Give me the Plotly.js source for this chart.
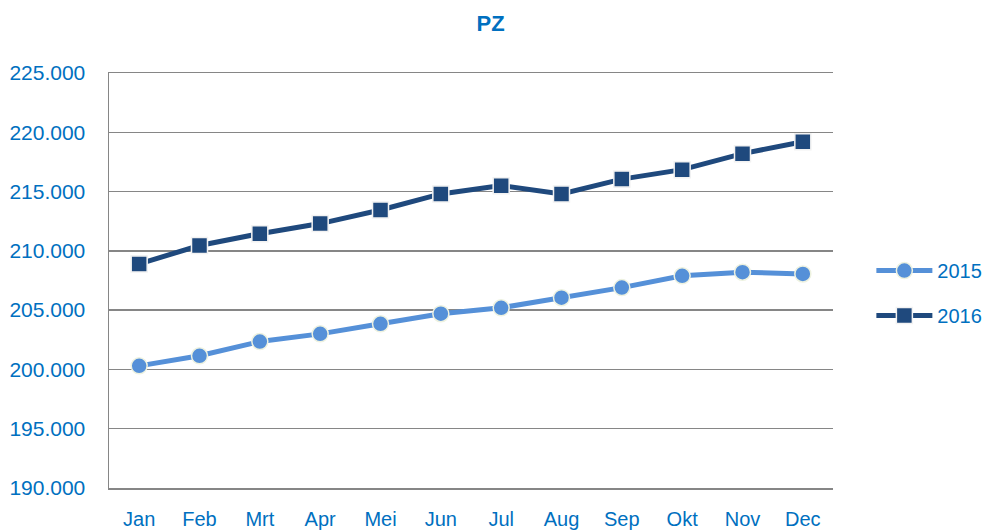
<!DOCTYPE html>
<html>
<head>
<meta charset="utf-8">
<script src="https://cdn.plot.ly/plotly-3.0.1.min.js"></script>
<style>html,body{margin:0;padding:0;background:#fff;}#chart{width:987px;height:531px;}</style>
</head>
<body>
<div id="chart"></div>
<script>
const months = ["Jan","Feb","Mrt","Apr","Mei","Jun","Jul","Aug","Sep","Okt","Nov","Dec"];
const seriesNames = ["2015","2016"];
const values2015 = [200300,201150,202350,203000,203850,204700,205200,206050,206900,207900,208200,208050];
const values2016 = [208900,210450,211450,212300,213450,214800,215500,214800,216050,216850,218200,219200];
const yTicks = [190000,195000,200000,205000,210000,215000,220000,225000];

const blue = "#0070C0";
const font = "'Liberation Sans', Arial, sans-serif";

const traces = [
  {
    x: months, y: values2015, name: seriesNames[0], type: "scatter", mode: "lines+markers",
    legendgroup: "a",
    line: {color: "#5590D8", width: 5},
    marker: {symbol: "circle", size: 16, color: "#5590D8", line: {color: "#EEF2E0", width: 1.5}}
  },
  {
    x: months, y: values2016, name: seriesNames[1], type: "scatter", mode: "lines+markers",
    legendgroup: "b",
    line: {color: "#1F497D", width: 5},
    marker: {symbol: "square", size: 16, color: "#1F497D", line: {color: "#F2F2F2", width: 1.5}}
  }
];

const layout = {
  width: 987, height: 531,
  paper_bgcolor: "#fff", plot_bgcolor: "#fff",
  separators: ",.",
  margin: {l: 109, r: 154, t: 73, b: 43, autoexpand: false},
  title: {text: "<b>PZ</b>", x: 0.497, xanchor: "center", y: 0.957, yanchor: "middle",
          font: {family: font, size: 22, color: blue}},
  showlegend: true,
  legend: {x: 1.053, xanchor: "left", y: 0.571, yanchor: "top", font: {family: font, size: 20, color: blue},
           itemwidth: 56, tracegroupgap: 16, bgcolor: "rgba(0,0,0,0)"},
  xaxis: {
    type: "category", range: [-0.5, 11.5],
    showgrid: false, showline: true, mirror: true, linecolor: "#868686", linewidth: 1.5,
    ticks: "", ticklabelstandoff: 12,
    tickfont: {family: font, size: 20, color: blue}
  },
  yaxis: {
    range: [190000, 225000], tickvals: yTicks, tickformat: ",d",
    showgrid: true, gridcolor: "#868686", gridwidth: 1.5,
    showline: true, linecolor: "#868686", linewidth: 1.5, zeroline: false,
    ticks: "", ticklabelstandoff: 18,
    tickfont: {family: font, size: 21, color: blue}
  }
};

Plotly.newPlot("chart", traces, layout, {displayModeBar: false, staticPlot: true});
</script>
</body>
</html>
